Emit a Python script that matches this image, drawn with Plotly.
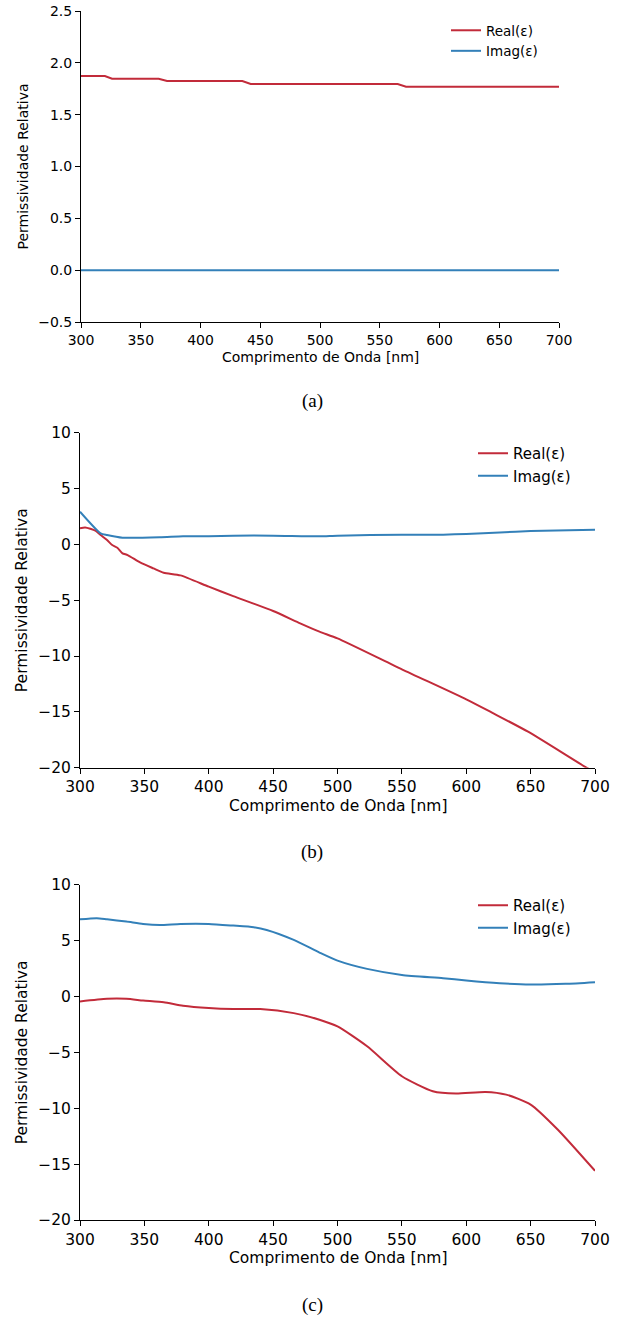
import plotly.graph_objects as go

# ---- data ----
# Panel (a)
wl_a = [300, 320, 326, 365, 372, 435, 442, 565, 572, 700]
real_a = [1.872, 1.872, 1.846, 1.846, 1.824, 1.824, 1.796, 1.796, 1.770, 1.770]
imag_a = [0, 0, 0, 0, 0, 0, 0, 0, 0, 0]

# Panel (b)
wl_b_real = [300, 304, 312, 316, 321, 325, 329, 333, 337, 347, 357, 365, 378, 400, 419,
             450, 471, 486, 500, 550, 600, 620, 648, 692, 700]
real_b = [1.43, 1.52, 1.22, 0.84, 0.39, -0.06, -0.30, -0.80, -0.96, -1.64, -2.15, -2.54,
          -2.78, -3.79, -4.63, -5.97, -7.07, -7.82, -8.42, -11.19, -13.88, -15.07, -16.78,
          -19.9, -20.4]
wl_b_imag = [300, 316, 321, 333, 362, 380, 400, 419, 450, 486, 500, 550, 582, 600, 626, 650, 700]
imag_b = [2.93, 0.99, 0.84, 0.60, 0.63, 0.72, 0.72, 0.78, 0.78, 0.72, 0.78, 0.87, 0.87,
          0.93, 1.07, 1.19, 1.31]

# Panel (c)
wl_c_imag = [300, 313, 321, 336, 349, 362, 378, 400, 419, 435, 445, 466, 486, 500, 523,
             550, 582, 600, 626, 650, 677, 700]
imag_c = [6.90, 7.00, 6.90, 6.70, 6.49, 6.40, 6.49, 6.49, 6.34, 6.19, 5.95, 5.06, 3.93,
          3.21, 2.47, 1.93, 1.64, 1.43, 1.19, 1.07, 1.13, 1.28]
wl_c_real = [300, 321, 336, 349, 365, 380, 400, 419, 440, 466, 486, 500, 523, 550, 574,
             592, 615, 631, 650, 671, 700]
real_c = [-0.45, -0.21, -0.21, -0.36, -0.51, -0.83, -1.04, -1.13, -1.13, -1.49, -2.08,
          -2.68, -4.46, -7.14, -8.48, -8.69, -8.54, -8.78, -9.67, -11.9, -15.6]

x_ticks = [300, 350, 400, 450, 500, 550, 600, 650, 700]
y_ticks_a = [-0.5, 0.0, 0.5, 1.0, 1.5, 2.0, 2.5]
y_ticks_bc = [-20, -15, -10, -5, 0, 5, 10]

labels = ["Real(ε)", "Imag(ε)"]
captions = ["(a)", "(b)", "(c)"]
x_title = "Comprimento de Onda [nm]"
y_title = "Permissividade Relativa"

RED = "#c22b3a"
BLUE = "#3380b9"
W, H = 622, 1318
FONT = "DejaVu Sans"


def px(v):
    return v / W


def py(v):
    return 1 - v / H


fig = go.Figure()

panels = [
    dict(xs=(wl_a, wl_a), ys=(real_a, imag_a), xd=(81, 559), yd=(11, 322),
         yr=[-0.5, 2.5], yt=y_ticks_a, fmt=".1f", fs=14, leg=(446, 15),
         xt_y=357, cap_y=401),
    dict(xs=(wl_b_real, wl_b_imag), ys=(real_b, imag_b), xd=(80, 595), yd=(432.7, 767.7),
         yr=[-20, 10], yt=y_ticks_bc, fmt="d", fs=15.5, leg=(473, 437),
         xt_y=806, cap_y=852),
    dict(xs=(wl_c_real, wl_c_imag), ys=(real_c, imag_c), xd=(80, 595), yd=(884.7, 1220),
         yr=[-20, 10], yt=y_ticks_bc, fmt="d", fs=15.5, leg=(473, 889),
         xt_y=1258, cap_y=1305),
]

for i, p in enumerate(panels):
    n = "" if i == 0 else str(i + 1)
    legname = "legend" + n
    for j, col in enumerate([RED, BLUE]):
        fig.add_trace(go.Scatter(
            x=p["xs"][j], y=p["ys"][j], mode="lines", name=labels[j],
            line=dict(color=col, width=2, shape="spline", smoothing=0.6 if i > 0 else 0),
            xaxis="x" + n, yaxis="y" + n, legend=legname, showlegend=True))
    ax = dict(showline=True, linecolor="black", linewidth=1, ticks="outside",
              ticklen=5, tickwidth=1, tickcolor="black", showgrid=False, zeroline=False,
              automargin=False, ticklabeloverflow="allow",
              tickfont=dict(family=FONT, size=p["fs"], color="black"))
    xdom = [px(p["xd"][0]), px(p["xd"][1])]
    ydom = [py(p["yd"][1]), py(p["yd"][0])]
    fig.update_layout(**{
        "xaxis" + n: dict(ax, domain=xdom, range=[300, 700], tickvals=x_ticks,
                          anchor="y" + n),
        "yaxis" + n: dict(ax, domain=ydom, range=p["yr"], tickvals=p["yt"],
                          tickformat=p["fmt"], anchor="x" + n),
        legname: dict(x=px(p["leg"][0]), y=py(p["leg"][1]), xanchor="left",
                      yanchor="top", bgcolor="rgba(0,0,0,0)",
                      font=dict(family=FONT, size=p["fs"] - 0.5, color="black"),
                      tracegroupgap=0),
    })
    # axis titles
    fig.add_annotation(text=x_title, xref="paper", yref="paper",
                       x=px((p["xd"][0] + p["xd"][1]) / 2), y=py(p["xt_y"]),
                       showarrow=False, xanchor="center", yanchor="middle",
                       font=dict(family=FONT, size=p["fs"], color="black"))
    fig.add_annotation(text=y_title, xref="paper", yref="paper", textangle=-90,
                       x=px(22), y=py((p["yd"][0] + p["yd"][1]) / 2),
                       showarrow=False, xanchor="center", yanchor="middle",
                       font=dict(family=FONT, size=p["fs"], color="black"))
    # caption
    fig.add_annotation(text=captions[i], xref="paper", yref="paper",
                       x=px(312), y=py(p["cap_y"]), showarrow=False,
                       xanchor="center", yanchor="middle",
                       font=dict(family="Liberation Serif", size=19, color="black"))

fig.update_layout(width=W, height=H, margin=dict(l=0, r=0, t=0, b=0),
                  plot_bgcolor="white", paper_bgcolor="white", showlegend=True)

fig.write_html("out.html",
               config={"displayModeBar": False},
               post_script="document.body.style.margin='0px';"
                           "document.body.style.overflow='hidden';")
